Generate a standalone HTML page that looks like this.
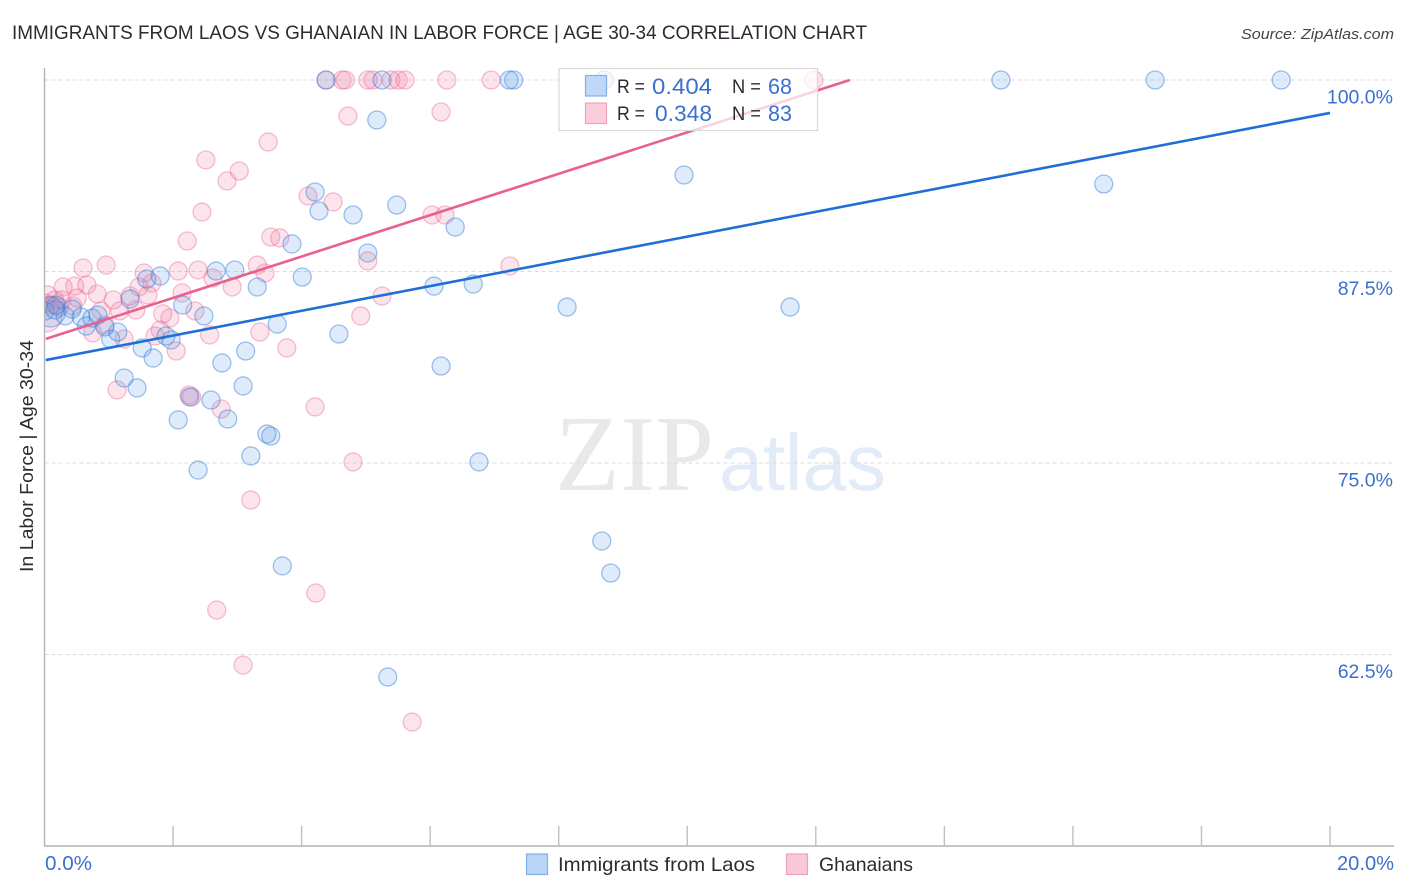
<!DOCTYPE html>
<html lang="en">
<head>
<meta charset="utf-8">
<title>Immigrants from Laos vs Ghanaian in Labor Force | Age 30-34 Correlation Chart</title>
<style>
html,body{margin:0;padding:0;background:#fff;}
body{width:1406px;height:892px;overflow:hidden;}
svg{display:block;font-family:"Liberation Sans",sans-serif;}
</style>
</head>
<body>
<svg id="chart" width="1406" height="892" viewBox="0 0 1406 892" xmlns="http://www.w3.org/2000/svg">
  <defs>
    <clipPath id="plot-clip"><rect x="44.5" y="60" width="1350" height="786"/></clipPath>
  </defs>
  <text x="12" y="39" font-size="19.5" fill="#2b2b33" textLength="855" lengthAdjust="spacingAndGlyphs">IMMIGRANTS FROM LAOS VS GHANAIAN IN LABOR FORCE | AGE 30-34 CORRELATION CHART</text>
  <text x="1394" y="39" font-size="15" font-style="italic" fill="#444" text-anchor="end" textLength="153" lengthAdjust="spacingAndGlyphs">Source: ZipAtlas.com</text>
  <g id="watermark">
    <text x="555" y="490" font-family="'Liberation Serif',serif" font-size="108" fill="#e9e9e9" textLength="159" lengthAdjust="spacingAndGlyphs">ZIP</text>
    <text x="719" y="490" font-family="'Liberation Sans',sans-serif" font-size="80" fill="#e2ebf8" textLength="167" lengthAdjust="spacingAndGlyphs">atlas</text>
  </g>
  <g id="grid"></g>
  <g id="points" clip-path="url(#plot-clip)"></g>
  <g id="trends"></g>
  <g id="axes"></g>
  <g id="stats-legend">
    <rect x="559" y="68.5" width="258.5" height="62" fill="#fff" fill-opacity="0.72" stroke="#d8d8d8" stroke-width="1.2"/>
    <rect x="585.5" y="75.5" width="21" height="20.5" fill="#b9d4f6" fill-opacity="0.9" stroke="#7fb0ea" stroke-width="1.2"/>
    <rect x="585.5" y="103" width="21" height="20.5" fill="#fbc8d8" fill-opacity="0.9" stroke="#f0a0ba" stroke-width="1.2"/>
    <text x="617" y="93" font-size="19.5" fill="#2b2b33" textLength="28" lengthAdjust="spacingAndGlyphs">R =</text>
    <text x="652" y="94" font-size="22" fill="#3a70d0" textLength="60" lengthAdjust="spacingAndGlyphs">0.404</text>
    <text x="732" y="93" font-size="19.5" fill="#2b2b33" textLength="29" lengthAdjust="spacingAndGlyphs">N =</text>
    <text x="768" y="94" font-size="22" fill="#3a70d0" textLength="24" lengthAdjust="spacingAndGlyphs">68</text>
    <text x="617" y="120" font-size="19.5" fill="#2b2b33" textLength="28" lengthAdjust="spacingAndGlyphs">R =</text>
    <text x="655" y="121" font-size="22" fill="#3a70d0" textLength="57" lengthAdjust="spacingAndGlyphs">0.348</text>
    <text x="732" y="120" font-size="19.5" fill="#2b2b33" textLength="29" lengthAdjust="spacingAndGlyphs">N =</text>
    <text x="768" y="121" font-size="22" fill="#3a70d0" textLength="24" lengthAdjust="spacingAndGlyphs">83</text>
  </g>
  <text transform="translate(33,572) rotate(-90)" font-size="18.5" fill="#2b2b33" textLength="232" lengthAdjust="spacingAndGlyphs">In Labor Force | Age 30-34</text>
  <g id="bottom-legend">
    <rect x="526.5" y="854" width="21" height="20.5" fill="#b9d4f6" stroke="#7fb0ea" stroke-width="1.2"/>
    <text x="558" y="871" font-size="19.5" fill="#2b2b33" textLength="197" lengthAdjust="spacingAndGlyphs">Immigrants from Laos</text>
    <rect x="786.5" y="854" width="21" height="20.5" fill="#fbc8d8" stroke="#f0a0ba" stroke-width="1.2"/>
    <text x="819" y="871" font-size="19.5" fill="#2b2b33" textLength="94" lengthAdjust="spacingAndGlyphs">Ghanaians</text>
  </g>
</svg>
<script>
var laosX = [4.38,5.25,7.23,7.30,8.71,14.88,17.28,19.24,5.17,9.95,16.48,4.21,4.27,4.80,5.48,6.39,3.85,5.03,2.96,2.67,1.80,1.59,4.01,3.31,6.06,6.67,8.13,11.60,2.15,2.48,3.62,4.58,1.03,1.14,1.97,1.52,1.89,3.13,1.69,2.76,6.17,1.24,3.09,1.44,2.26,2.59,2.08,2.85,3.46,3.52,3.21,2.39,6.76,8.67,8.81,3.70,5.34,0.01,0.16,0.32,0.43,0.57,0.65,0.74,0.83,0.94,1.33,0.18];
var laosY = [100,100,100,100,100,100,100,100,97.39,93.80,93.21,92.69,91.45,91.19,91.84,90.40,89.30,88.71,87.60,87.53,87.21,87.01,87.14,86.49,86.55,86.68,85.18,85.18,85.31,84.60,84.07,83.42,83.09,83.55,83.03,82.51,83.29,82.31,81.85,81.53,81.33,80.55,80.03,79.90,79.31,79.11,77.81,77.87,76.89,76.76,75.46,74.54,75.07,69.91,67.82,68.28,61.03,84.92,84.99,84.60,85.05,84.53,83.94,84.46,84.66,83.88,85.70,85.31];
var ghanaX = [4.38,4.63,4.68,5.03,5.11,5.39,5.50,5.61,6.26,6.95,11.97,4.72,6.17,3.48,2.51,3.03,2.84,4.10,4.49,2.45,6.03,6.23,2.22,3.52,3.66,5.03,7.24,0.60,0.96,2.08,2.39,3.31,3.43,1.55,2.62,2.92,0.29,0.47,0.66,1.67,1.47,2.14,1.33,1.07,1.61,5.25,0.51,0.05,0.27,0.82,2.34,4.92,1.42,1.17,0.88,1.84,1.95,0.94,0.75,1.80,1.24,1.72,2.57,3.35,2.05,3.77,1.13,2.25,2.29,2.75,4.21,4.80,3.21,4.22,2.68,3.09,5.72,0.16,0.09,0.01,0.23,0.44];
var ghanaY = [100,100,100,100,100,100,100,100,100,100,100,97.65,97.91,95.95,94.78,94.06,93.41,92.43,92.04,91.38,91.19,91.19,89.49,89.75,89.69,88.19,87.86,87.73,87.92,87.53,87.60,87.92,87.40,87.40,87.08,86.49,86.49,86.55,86.62,86.75,86.49,86.10,85.90,85.64,85.97,85.90,85.77,85.97,85.64,86.03,84.92,84.60,84.99,84.92,84.92,84.73,84.46,84.01,83.49,83.68,83.09,83.29,83.36,83.55,82.31,82.51,79.77,79.44,79.31,78.52,78.66,75.07,72.58,66.51,65.40,61.81,58.09,85.64,85.31,85.44,85.18,85.25];
var laosLargeX = [0.09];
var laosLargeY = [84.86];
var ghanaLargeX = [0.02];
var ghanaLargeY = [84.60];
var laosTrendX = [0.02,20];
var laosTrendY = [81.72,97.85];
var ghanaTrendX = [0.02,12.53];
var ghanaTrendY = [83.10,100];
var yTickValues = [100,87.5,75,62.5];
var yTickLabels = ["100.0%","87.5%","75.0%","62.5%"];
var xTickValues = [0,2,4,6,8,10,12,14,16,18,20];
var xEndLabels = ["0.0%","20.0%"];

var NS = "http://www.w3.org/2000/svg";
function sx(v){ return 44.5 + v * 64.275; }
function sy(v){ return 80 + (100 - v) * 15.32; }
function mk(tag, attrs, parent){
  var el = document.createElementNS(NS, tag);
  for (var k in attrs) el.setAttribute(k, attrs[k]);
  parent.appendChild(el);
  return el;
}
var gridG = document.getElementById('grid');
var axesG = document.getElementById('axes');
var ptsG = document.getElementById('points');
var trendG = document.getElementById('trends');

yTickValues.forEach(function(v, i){
  var l = mk('line', {x1:44.5, x2:1394, y1:sy(v), y2:sy(v), stroke:'#dcdcdc', 'stroke-width':1, 'stroke-dasharray':'4 3'}, gridG);
  
  
  var t = mk('text', {x:1393, y:sy(v) + 23.5, 'font-size':19.5, fill:'#3a70d0', 'text-anchor':'end'}, axesG);
  t.textContent = yTickLabels[i];
  
  
});

var yAxis = mk('line', {x1:44.5, x2:44.5, y1:68, y2:846, stroke:'#b4b4b4', 'stroke-width':1.4}, axesG);


var xAxis = mk('line', {x1:44, x2:1394, y1:846, y2:846, stroke:'#b4b4b4', 'stroke-width':1.4}, axesG);



xTickValues.forEach(function(v){
  if (v === 0) return;
  var tk = mk('line', {x1:sx(v), x2:sx(v), y1:826, y2:846, stroke:'#c0c0c0', 'stroke-width':1.4}, axesG);
  
  
});

var xl0 = mk('text', {x:sx(xTickValues[0]) + 0.5, y:870, 'font-size':20, fill:'#3a70d0', textLength:47, lengthAdjust:'spacingAndGlyphs'}, axesG);
xl0.textContent = xEndLabels[0];


var xl1 = mk('text', {x:1337, y:870, 'font-size':20, fill:'#3a70d0', textLength:57, lengthAdjust:'spacingAndGlyphs'}, axesG);
xl1.textContent = xEndLabels[1];



function drawPoints(xs, ys, r, fill, stroke, name){
  xs.forEach(function(x, i){
    var c = mk('circle', {cx:sx(x), cy:sy(ys[i]), r:r, fill:fill, 'fill-opacity':0.2, stroke:stroke, 'stroke-opacity':0.45, 'stroke-width':1.3}, ptsG);
    
    
  });
}
drawPoints(ghanaX, ghanaY, 9, '#f07aa0', '#ec7098', 'ghanaians-point');
drawPoints(ghanaLargeX, ghanaLargeY, 16, '#f07aa0', '#ec7098', 'ghanaians-large-point');
drawPoints(laosX, laosY, 9, '#5b9be8', '#2f78d8', 'laos-point');
drawPoints(laosLargeX, laosLargeY, 15, '#5b9be8', '#2f78d8', 'laos-large-point');

var tGhana = mk('line', {x1:sx(ghanaTrendX[0]), y1:sy(ghanaTrendY[0]), x2:sx(ghanaTrendX[1]), y2:sy(ghanaTrendY[1]), stroke:'#e9608f', 'stroke-width':2.6}, trendG);


var tLaos = mk('line', {x1:sx(laosTrendX[0]), y1:sy(laosTrendY[0]), x2:sx(laosTrendX[1]), y2:sy(laosTrendY[1]), stroke:'#1f6fd6', 'stroke-width':2.6}, trendG);


</script>
</body>
</html>
